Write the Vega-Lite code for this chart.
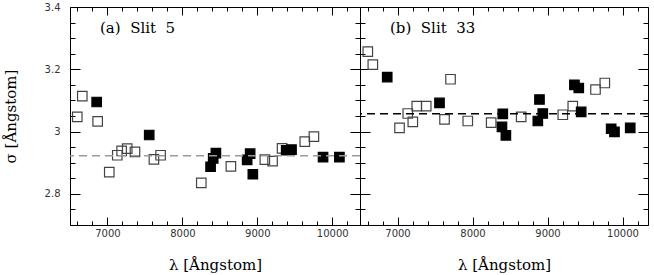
{
  "$schema": "https://vega.github.io/schema/vega-lite/v6.json",
  "background": "white",
  "padding": {"left": 2, "top": 1, "right": 0, "bottom": 0},
  "bounds": "flush",
  "spacing": 0,
  "datasets": {
    "pts": [
      {"panel": "a", "kind": "open", "lambda": 6597, "sigma": 3.047},
      {"panel": "a", "kind": "open", "lambda": 6664, "sigma": 3.114},
      {"panel": "a", "kind": "open", "lambda": 6869, "sigma": 3.033},
      {"panel": "a", "kind": "open", "lambda": 7024, "sigma": 2.870},
      {"panel": "a", "kind": "open", "lambda": 7131, "sigma": 2.924},
      {"panel": "a", "kind": "open", "lambda": 7189, "sigma": 2.938},
      {"panel": "a", "kind": "open", "lambda": 7264, "sigma": 2.945},
      {"panel": "a", "kind": "open", "lambda": 7367, "sigma": 2.935},
      {"panel": "a", "kind": "open", "lambda": 7620, "sigma": 2.911},
      {"panel": "a", "kind": "open", "lambda": 7709, "sigma": 2.924},
      {"panel": "a", "kind": "open", "lambda": 8252, "sigma": 2.835},
      {"panel": "a", "kind": "open", "lambda": 8647, "sigma": 2.888},
      {"panel": "a", "kind": "open", "lambda": 9100, "sigma": 2.910},
      {"panel": "a", "kind": "open", "lambda": 9203, "sigma": 2.905},
      {"panel": "a", "kind": "open", "lambda": 9330, "sigma": 2.946},
      {"panel": "a", "kind": "open", "lambda": 9633, "sigma": 2.968},
      {"panel": "a", "kind": "open", "lambda": 9755, "sigma": 2.984},
      {"panel": "a", "kind": "filled", "lambda": 6856, "sigma": 3.095},
      {"panel": "a", "kind": "filled", "lambda": 7557, "sigma": 2.989},
      {"panel": "a", "kind": "filled", "lambda": 8376, "sigma": 2.887},
      {"panel": "a", "kind": "filled", "lambda": 8411, "sigma": 2.914},
      {"panel": "a", "kind": "filled", "lambda": 8447, "sigma": 2.931},
      {"panel": "a", "kind": "filled", "lambda": 8864, "sigma": 2.909},
      {"panel": "a", "kind": "filled", "lambda": 8904, "sigma": 2.929},
      {"panel": "a", "kind": "filled", "lambda": 8940, "sigma": 2.863},
      {"panel": "a", "kind": "filled", "lambda": 9385, "sigma": 2.940},
      {"panel": "a", "kind": "filled", "lambda": 9456, "sigma": 2.942},
      {"panel": "a", "kind": "filled", "lambda": 9877, "sigma": 2.918},
      {"panel": "a", "kind": "filled", "lambda": 10095, "sigma": 2.918},
      {"panel": "b", "kind": "open", "lambda": 6604, "sigma": 3.257},
      {"panel": "b", "kind": "open", "lambda": 6671, "sigma": 3.215},
      {"panel": "b", "kind": "open", "lambda": 7027, "sigma": 3.012},
      {"panel": "b", "kind": "open", "lambda": 7137, "sigma": 3.058},
      {"panel": "b", "kind": "open", "lambda": 7204, "sigma": 3.031},
      {"panel": "b", "kind": "open", "lambda": 7257, "sigma": 3.082},
      {"panel": "b", "kind": "open", "lambda": 7383, "sigma": 3.082},
      {"panel": "b", "kind": "open", "lambda": 7627, "sigma": 3.039},
      {"panel": "b", "kind": "open", "lambda": 7707, "sigma": 3.168},
      {"panel": "b", "kind": "open", "lambda": 7937, "sigma": 3.034},
      {"panel": "b", "kind": "open", "lambda": 8249, "sigma": 3.029},
      {"panel": "b", "kind": "open", "lambda": 8649, "sigma": 3.047},
      {"panel": "b", "kind": "open", "lambda": 9204, "sigma": 3.054},
      {"panel": "b", "kind": "open", "lambda": 9337, "sigma": 3.082},
      {"panel": "b", "kind": "open", "lambda": 9640, "sigma": 3.135},
      {"panel": "b", "kind": "open", "lambda": 9764, "sigma": 3.156},
      {"panel": "b", "kind": "filled", "lambda": 6863, "sigma": 3.175},
      {"panel": "b", "kind": "filled", "lambda": 7560, "sigma": 3.092},
      {"panel": "b", "kind": "filled", "lambda": 8404, "sigma": 3.057},
      {"panel": "b", "kind": "filled", "lambda": 8393, "sigma": 3.015},
      {"panel": "b", "kind": "filled", "lambda": 8445, "sigma": 2.988},
      {"panel": "b", "kind": "filled", "lambda": 8893, "sigma": 3.103},
      {"panel": "b", "kind": "filled", "lambda": 8871, "sigma": 3.034},
      {"panel": "b", "kind": "filled", "lambda": 8937, "sigma": 3.058},
      {"panel": "b", "kind": "filled", "lambda": 9359, "sigma": 3.150},
      {"panel": "b", "kind": "filled", "lambda": 9417, "sigma": 3.140},
      {"panel": "b", "kind": "filled", "lambda": 9449, "sigma": 3.063},
      {"panel": "b", "kind": "filled", "lambda": 9849, "sigma": 3.009},
      {"panel": "b", "kind": "filled", "lambda": 9893, "sigma": 2.999},
      {"panel": "b", "kind": "filled", "lambda": 10103, "sigma": 3.012}
    ],
    "means": [
      {"panel": "a", "mean": 2.922},
      {"panel": "b", "mean": 3.057}
    ],
    "labels": [
      {"panel": "a", "lambda": 6900, "sigma": 3.334, "text": "(a)\u00a0\u00a0Slit\u00a0\u00a05"},
      {"panel": "b", "lambda": 6900, "sigma": 3.334, "text": "(b)\u00a0\u00a0Slit\u00a0\u00a033"}
    ]
  },
  "config": {
    "view": {"stroke": "#000", "strokeWidth": 1},
    "axis": {
      "domain": false,
      "grid": false,
      "labelFont": "DejaVu Sans",
      "labelFontSize": 10,
      "labelColor": "#333",
      "labelOverlap": false,
      "labelFlush": false,
      "tickColor": "#000",
      "tickWidth": 1,
      "titleFont": "DejaVu Serif",
      "titleFontSize": 15,
      "titleFontWeight": "normal",
      "titleColor": "#000"
    }
  },
  "hconcat": [
    {
      "width": 290,
      "height": 218,
      "layer": [
        {
          "data": {"name": "pts"},
          "transform": [{"filter": "datum.panel === 'a'"}],
          "mark": {"type": "square", "size": 90, "strokeWidth": 1.2, "opacity": 1},
          "encoding": {
            "x": {
              "field": "lambda", "type": "quantitative",
              "scale": {"domain": [6500, 10370], "nice": false, "zero": false},
              "axis": {
                "orient": "bottom",
                "values": [6600, 6800, 7000, 7200, 7400, 7600, 7800, 8000, 8200, 8400, 8600, 8800, 9000, 9200, 9400, 9600, 9800, 10000, 10200],
                "tickSize": {"condition": {"test": "datum.value % 1000 === 0", "value": -8}, "value": -4},
                "labelExpr": "datum.value % 1000 === 0 ? format(datum.value, 'd') : ''",
                "labelPadding": 11,
                "title": "λ [Ångstom]",
                "titlePadding": 15
              }
            },
            "y": {
              "field": "sigma", "type": "quantitative",
              "scale": {"domain": [2.7, 3.4], "nice": false, "zero": false},
              "axis": {
                "orient": "left",
                "values": [2.7, 2.75, 2.8, 2.85, 2.9, 2.95, 3.0, 3.05, 3.1, 3.15, 3.2, 3.25, 3.3, 3.35, 3.4],
                "tickSize": {"condition": {"test": "abs(datum.value*5 - round(datum.value*5)) < 0.001", "value": -10}, "value": -5},
                "labelExpr": "abs(datum.value*5 - round(datum.value*5)) < 0.001 ? format(datum.value, '.1~f') : ''",
                "labelPadding": 20,
                "title": "σ [Ångstom]",
                "titlePadding": 26
              }
            },
            "fill": {"field": "kind", "type": "nominal", "scale": {"domain": ["filled", "open"], "range": ["#000", "transparent"]}, "legend": null},
            "stroke": {"field": "kind", "type": "nominal", "scale": {"domain": ["filled", "open"], "range": ["#000", "#444"]}, "legend": null}
          }
        },
        {
          "data": {"name": "means"},
          "transform": [{"filter": "datum.panel === 'a'"}],
          "mark": {"type": "rule", "color": "#9a9a9a", "strokeWidth": 1.5, "strokeDash": [8, 5]},
          "encoding": {
            "y": {
              "field": "mean", "type": "quantitative",
              "axis": {
                "orient": "right",
                "values": [2.7, 2.75, 2.8, 2.85, 2.9, 2.95, 3.0, 3.05, 3.1, 3.15, 3.2, 3.25, 3.3, 3.35, 3.4],
                "tickSize": {"condition": {"test": "abs(datum.value*5 - round(datum.value*5)) < 0.001", "value": -10}, "value": -5},
                "labels": false,
                "title": null
              }
            }
          }
        },
        {
          "data": {"name": "labels"},
          "transform": [{"filter": "datum.panel === 'a'"}],
          "mark": {"type": "text", "align": "left", "baseline": "middle", "font": "DejaVu Serif", "fontSize": 15, "color": "#000"},
          "encoding": {
            "x": {
              "field": "lambda", "type": "quantitative",
              "axis": {
                "orient": "top",
                "values": [6600, 6800, 7000, 7200, 7400, 7600, 7800, 8000, 8200, 8400, 8600, 8800, 9000, 9200, 9400, 9600, 9800, 10000, 10200],
                "tickSize": {"condition": {"test": "datum.value % 1000 === 0", "value": -8}, "value": -4},
                "labels": false,
                "title": null
              }
            },
            "y": {"field": "sigma", "type": "quantitative", "axis": null},
            "text": {"field": "text"}
          }
        }
      ],
      "resolve": {"axis": {"x": "independent", "y": "independent"}}
    },
    {
      "width": 288,
      "height": 218,
      "layer": [
        {
          "data": {"name": "pts"},
          "transform": [{"filter": "datum.panel === 'b'"}],
          "mark": {"type": "square", "size": 90, "strokeWidth": 1.2, "opacity": 1},
          "encoding": {
            "x": {
              "field": "lambda", "type": "quantitative",
              "scale": {"domain": [6500, 10340], "nice": false, "zero": false},
              "axis": {
                "orient": "bottom",
                "values": [6600, 6800, 7000, 7200, 7400, 7600, 7800, 8000, 8200, 8400, 8600, 8800, 9000, 9200, 9400, 9600, 9800, 10000, 10200],
                "tickSize": {"condition": {"test": "datum.value % 1000 === 0", "value": -8}, "value": -4},
                "labelExpr": "datum.value % 1000 === 0 ? format(datum.value, 'd') : ''",
                "labelPadding": 11,
                "title": "λ [Ångstom]",
                "titlePadding": 15
              }
            },
            "y": {
              "field": "sigma", "type": "quantitative",
              "scale": {"domain": [2.7, 3.4], "nice": false, "zero": false},
              "axis": {
                "orient": "left",
                "values": [2.7, 2.75, 2.8, 2.85, 2.9, 2.95, 3.0, 3.05, 3.1, 3.15, 3.2, 3.25, 3.3, 3.35, 3.4],
                "tickSize": {"condition": {"test": "abs(datum.value*5 - round(datum.value*5)) < 0.001", "value": -10}, "value": -5},
                "labels": false,
                "title": null
              }
            },
            "fill": {"field": "kind", "type": "nominal", "scale": {"domain": ["filled", "open"], "range": ["#000", "transparent"]}, "legend": null},
            "stroke": {"field": "kind", "type": "nominal", "scale": {"domain": ["filled", "open"], "range": ["#000", "#444"]}, "legend": null}
          }
        },
        {
          "data": {"name": "means"},
          "transform": [{"filter": "datum.panel === 'b'"}],
          "mark": {"type": "rule", "color": "#000", "strokeWidth": 1.5, "strokeDash": [8, 5]},
          "encoding": {
            "y": {
              "field": "mean", "type": "quantitative",
              "axis": {
                "orient": "right",
                "values": [2.7, 2.75, 2.8, 2.85, 2.9, 2.95, 3.0, 3.05, 3.1, 3.15, 3.2, 3.25, 3.3, 3.35, 3.4],
                "tickSize": {"condition": {"test": "abs(datum.value*5 - round(datum.value*5)) < 0.001", "value": -10}, "value": -5},
                "labels": false,
                "title": null
              }
            }
          }
        },
        {
          "data": {"name": "labels"},
          "transform": [{"filter": "datum.panel === 'b'"}],
          "mark": {"type": "text", "align": "left", "baseline": "middle", "font": "DejaVu Serif", "fontSize": 15, "color": "#000"},
          "encoding": {
            "x": {
              "field": "lambda", "type": "quantitative",
              "axis": {
                "orient": "top",
                "values": [6600, 6800, 7000, 7200, 7400, 7600, 7800, 8000, 8200, 8400, 8600, 8800, 9000, 9200, 9400, 9600, 9800, 10000, 10200],
                "tickSize": {"condition": {"test": "datum.value % 1000 === 0", "value": -8}, "value": -4},
                "labels": false,
                "title": null
              }
            },
            "y": {"field": "sigma", "type": "quantitative", "axis": null},
            "text": {"field": "text"}
          }
        }
      ],
      "resolve": {"axis": {"x": "independent", "y": "independent"}}
    }
  ]
}
